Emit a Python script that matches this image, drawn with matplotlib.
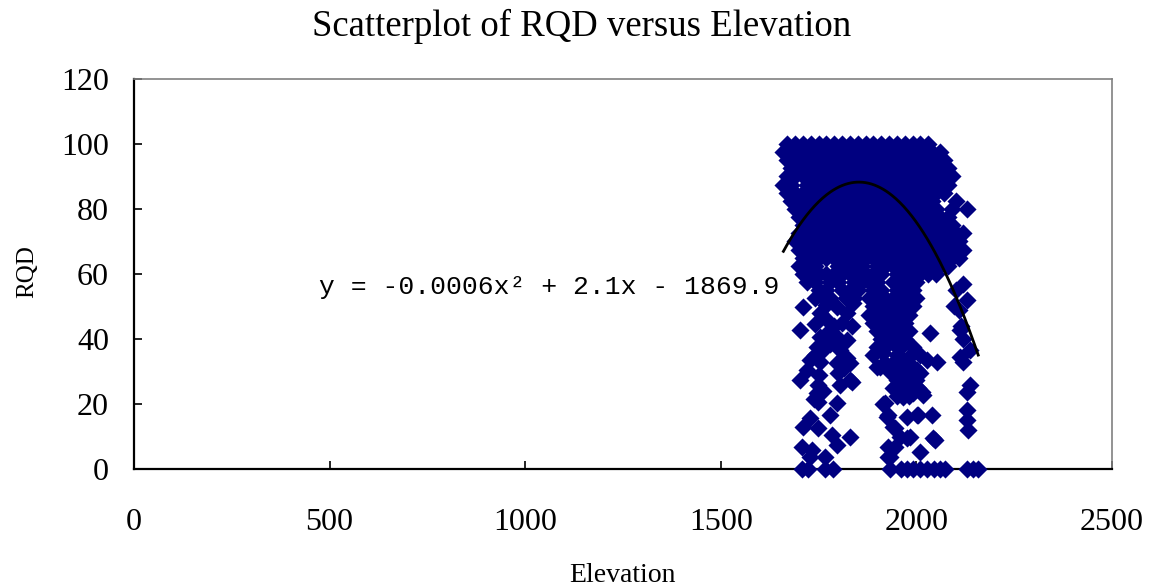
import numpy as np
import matplotlib
matplotlib.use("Agg")
import matplotlib.pyplot as plt

# dense upper part of the cloud: one row of points per RQD level
dense_rqd = [100, 97.5, 95, 92.5, 90, 87.5, 85, 82.5, 80, 77.5, 75, 72.5, 70, 67.5, 65, 62.5, 60]
dense_elev = [
    [1670, 1690, 1710, 1730, 1750, 1770, 1790, 1810, 1830, 1850, 1870, 1890, 1910, 1930, 1950, 1970, 1990, 2010, 2030],
    [1660, 1680, 1700, 1720, 1740, 1760, 1780, 1800, 1820, 1840, 1860, 1880, 1900, 1920, 1940, 1960, 1980, 2000, 2020, 2040, 2060],
    [1670, 1690, 1710, 1730, 1750, 1770, 1790, 1810, 1830, 1850, 1870, 1890, 1910, 1930, 1950, 1970, 1990, 2010, 2030, 2050, 2070],
    [1680, 1700, 1720, 1740, 1760, 1780, 1800, 1820, 1840, 1860, 1880, 1900, 1920, 1940, 1960, 1980, 2000, 2020, 2040, 2060, 2080],
    [1670, 1690, 1710, 1730, 1750, 1770, 1790, 1810, 1830, 1850, 1870, 1890, 1910, 1930, 1950, 1970, 1990, 2010, 2030, 2050, 2070, 2090],
    [1660, 1680, 1720, 1740, 1760, 1780, 1800, 1820, 1840, 1860, 1880, 1900, 1920, 1940, 1960, 1980, 2000, 2020, 2040, 2060, 2080],
    [1670, 1690, 1710, 1730, 1750, 1770, 1790, 1810, 1830, 1850, 1870, 1890, 1910, 1930, 1950, 1970, 1990, 2010, 2030, 2050, 2070],
    [1680, 1700, 1720, 1740, 1760, 1780, 1800, 1820, 1840, 1860, 1880, 1900, 1920, 1940, 1960, 1980, 2000, 2020, 2040, 2100],
    [1690, 1710, 1730, 1750, 1770, 1790, 1810, 1830, 1850, 1870, 1890, 1910, 1930, 1950, 1970, 1990, 2010, 2030, 2050, 2090, 2130],
    [1700, 1720, 1740, 1760, 1780, 1800, 1820, 1840, 1860, 1880, 1900, 1920, 1940, 1960, 1980, 2000, 2020, 2040, 2060, 2080],
    [1710, 1730, 1750, 1770, 1790, 1810, 1830, 1850, 1870, 1890, 1910, 1930, 1950, 1970, 1990, 2010, 2030, 2050, 2070, 2090],
    [1700, 1720, 1740, 1760, 1780, 1800, 1820, 1840, 1860, 1880, 1900, 1920, 1940, 1960, 1980, 2000, 2020, 2040, 2060, 2080, 2100, 2120],
    [1690, 1710, 1730, 1750, 1770, 1790, 1810, 1830, 1850, 1870, 1890, 1910, 1930, 1950, 1970, 1990, 2010, 2030, 2050, 2070, 2090, 2110],
    [1700, 1720, 1740, 1760, 1780, 1800, 1820, 1840, 1860, 1880, 1900, 1920, 1940, 1960, 1980, 2000, 2020, 2040, 2060, 2080, 2100, 2120],
    [1710, 1730, 1750, 1770, 1790, 1810, 1830, 1850, 1870, 1890, 1910, 1930, 1950, 1970, 1990, 2010, 2030, 2050, 2070, 2090, 2110],
    [1700, 1720, 1740, 1800, 1820, 1840, 1860, 1900, 1920, 1940, 1960, 1980, 2000, 2020, 2040, 2060, 2080],
    [1710, 1730, 1750, 1770, 1790, 1810, 1830, 1850, 1870, 1890, 1910, 1950, 1970, 1990, 2010, 2030, 2050],
]

# lower, sparser points (elevation, RQD)
left_points = [
    (1720, 57.5), (1740, 57.5), (1780, 57.5), (1800, 57.5), (1840, 57.5), (1860, 57.5),
    (1750, 55), (1770, 55), (1810, 55), (1830, 55), (1850, 55),
    (1740, 52.5), (1760, 52.5), (1780, 52.5), (1820, 52.5), (1840, 52.5),
    (1710, 49.8), (1754, 48), (1770, 50.5), (1797, 49.8), (1822, 48), (1838, 51),
    (1740, 44.5), (1771, 45.8), (1790, 44), (1810, 45), (1835, 44),
    (1702, 42.8), (1754, 40.6), (1775, 42), (1797, 40.6), (1822, 39.7),
    (1746, 37.5), (1761, 36.6), (1780, 38.5), (1805, 36.6), (1822, 34),
    (1728, 33.5), (1740, 35), (1754, 33), (1797, 32.6), (1830, 32.6),
    (1720, 30.5), (1750, 29), (1800, 29.5), (1815, 31),
    (1702, 27.4), (1749, 25.8), (1805, 25.8), (1830, 27.4), (1835, 26.8),
    (1746, 23.4), (1760, 24),
    (1738, 21.5), (1749, 20.6), (1797, 20.3),
    (1728, 15.7), (1779, 16.6),
    (1710, 12.9), (1749, 12.6), (1784, 10.5), (1830, 9.8), (1797, 7.4),
    (1707, 6.8), (1733, 5.8), (1728, 3.7), (1766, 3.7),
    (1707, 0), (1723, 0), (1766, 0), (1787, 0),
]
middle_points = [
    (1880, 57.5), (1900, 57.5), (1940, 57.5), (1960, 57.5), (1980, 57.5), (2000, 57.5),
    (1890, 55), (1910, 55), (1950, 55), (1970, 55), (1990, 55),
    (1880, 52.5), (1900, 52.5), (1920, 52.5), (1940, 52.5), (1960, 52.5), (1980, 52.5), (2000, 52.5),
    (1890, 50), (1910, 50), (1930, 50), (1950, 50), (1970, 50), (1990, 50),
    (1880, 47.5), (1900, 47.5), (1920, 47.5), (1940, 47.5), (1960, 47.5), (1980, 47.5),
    (1890, 45), (1910, 45), (1930, 45), (1950, 45), (1970, 45),
    (1900, 42.5), (1920, 42.5), (1940, 42.5), (1960, 42.5), (1980, 42.5),
    (1910, 40), (1930, 40), (1950, 40), (1970, 40), (2035, 41.8),
    (1900, 37.5), (1920, 37.5), (1940, 38.8), (1960, 37.5), (1990, 37.5),
    (1890, 35), (1915, 35.7), (1950, 35), (1991, 35.7), (2010, 35),
    (1920, 32.5), (1940, 32.5), (1966, 33.5), (1980, 32.5), (2027, 33.5), (2053, 33),
    (1899, 31.4), (1907, 31.4), (1930, 30), (1958, 30.5), (1970, 30), (1990, 30), (2001, 30.5), (2009, 29.5),
    (1950, 27.5), (1976, 27.4), (1984, 27.4), (2000, 27.5),
    (1940, 25), (1958, 24.3), (1963, 24.3), (1975, 25), (1991, 23.4), (2005, 25), (2014, 23.7), (2017, 22.8),
    (1950, 22.5), (1966, 22), (1980, 22.5),
    (1915, 20), (1920, 20.3), (1925, 16), (1927, 16.6), (1976, 16), (2001, 16.6), (2004, 16.6), (2040, 16.6),
    (1940, 12.9), (1945, 12.6), (1958, 9.8), (1975, 9.5), (1984, 9.8), (2042, 9.5), (2047, 9),
    (1927, 6.8), (1945, 6.8), (2009, 5.2), (1927, 3.7), (1932, 3.7),
    (1932, 0), (1960, 0), (1976, 0), (1991, 0), (2010, 0), (2027, 0), (2045, 0), (2060, 0), (2073, 0),
]
right_points = [
    (2120, 57), (2100, 55), (2130, 52), (2110, 49), (2096, 50), (2114, 44), (2111, 42.8), (2120, 40),
    (2137, 36.6), (2111, 34.5), (2119, 33),
    (2137, 25.8), (2129, 23.7), (2129, 18.2), (2129, 15), (2132, 12),
    (2129, 0), (2145, 0), (2158, 0),
]

# polynomial trend line (order 2), as shown on the chart
trend_coef = [-0.000572, 2.1198, -1875.7]
trend_label = "y = -0.0006x\u00b2 + 2.1x - 1869.9"

x_ticks = [0, 500, 1000, 1500, 2000, 2500]
y_ticks = [0, 20, 40, 60, 80, 100, 120]

elev = [e for row in dense_elev for e in row]
rqd = [r for r, row in zip(dense_rqd, dense_elev) for _ in row]
for pts in (left_points, middle_points, right_points):
    elev += [p[0] for p in pts]
    rqd += [p[1] for p in pts]
elev = np.array(elev, dtype=float)
rqd = np.array(rqd, dtype=float)

serif = ["Liberation Serif", "DejaVu Serif"]

fig = plt.figure(figsize=(11.52, 5.88), dpi=100)
ax = fig.add_axes([0.1163, 0.2024, 0.849, 0.6633])

ax.scatter(elev, rqd, marker="D", s=85, color="#000080", linewidths=0,
           zorder=3, clip_on=False)

xs = np.linspace(elev.min(), elev.max(), 200)
ax.plot(xs, np.polyval(trend_coef, xs), color="black", lw=2.0, zorder=4)

ax.text(1061, 56, trend_label, family=["Liberation Mono", "DejaVu Sans Mono"],
        fontsize=19, ha="center", va="center", zorder=5)

ax.set_xlim(0, 2500)
ax.set_ylim(0, 120)
ax.set_xticks(x_ticks)
ax.set_yticks(y_ticks)
ax.tick_params(direction="in", length=6, width=1.2, labelsize=23)
ax.tick_params(axis="x", pad=28)
ax.tick_params(axis="y", pad=18)
for lab in ax.get_xticklabels() + ax.get_yticklabels():
    lab.set_family(serif)

for side in ("left", "bottom"):
    ax.spines[side].set_color("black")
    ax.spines[side].set_linewidth(1.6)
for side in ("top", "right"):
    ax.spines[side].set_color("#808080")
    ax.spines[side].set_linewidth(1.2)

ax.set_xlabel("Elevation", family=serif, fontsize=20, va="center")
ax.xaxis.set_label_coords(0.499, -0.272)
ax.set_ylabel("RQD", family=serif, fontsize=18, va="center")
ax.yaxis.set_label_coords(-0.109, 0.505)

fig.text(0.505, 0.955, "Scatterplot of RQD versus Elevation", family=serif,
         fontsize=26.5, ha="center", va="center")

fig.savefig("out.png", dpi=100)
